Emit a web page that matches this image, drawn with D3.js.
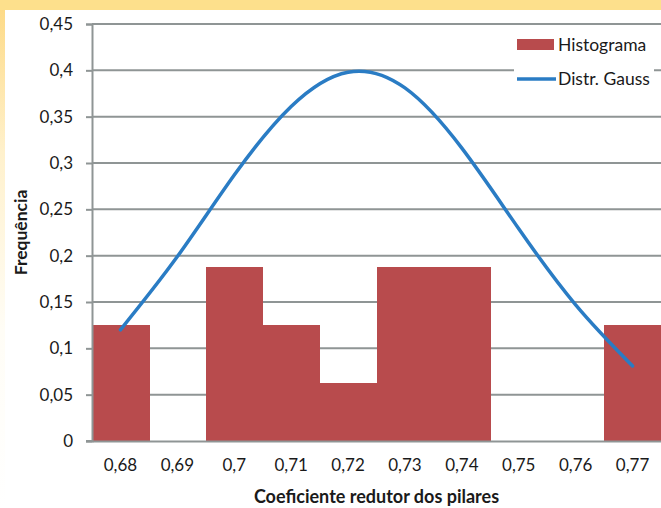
<!DOCTYPE html>
<html>
<head>
<meta charset="utf-8">
<script src="https://cdn.jsdelivr.net/npm/d3@7"></script>
<style>
  html, body { margin: 0; padding: 0; background: #fff; }
  svg { display: block; }
  text { font-family: Lato, "Open Sans", sans-serif; fill: #1a1a1a; }
</style>
</head>
<body>
<svg id="chart" width="661" height="508"></svg>
<script>
// ---- data ----
const categories = ["0,68", "0,69", "0,7", "0,71", "0,72", "0,73", "0,74", "0,75", "0,76", "0,77"];
const histogram = [0.125, 0, 0.1875, 0.125, 0.0625, 0.1875, 0.1875, 0, 0, 0.125];
const gauss = [0.120, 0.199, 0.287, 0.361, 0.398, 0.381, 0.316, 0.229, 0.147, 0.081];
const yTicks = [0, 0.05, 0.1, 0.15, 0.2, 0.25, 0.3, 0.35, 0.4, 0.45];
const seriesNames = ["Histograma", "Distr. Gauss"];
const xTitle = "Coeficiente redutor dos pilares";
const yTitle = "Frequência";

const W = 661, H = 508;
const margin = { left: 92, right: 0, top: 24, bottom: 67 };
const svg = d3.select("#chart");

// background
const defs = svg.append("defs");
const g1 = defs.append("linearGradient").attr("id", "bg").attr("x1", 0).attr("y1", 0).attr("x2", 0).attr("y2", 1);
g1.append("stop").attr("offset", "0%").attr("stop-color", "#fdd983");
g1.append("stop").attr("offset", "30%").attr("stop-color", "#fff1cc");
g1.append("stop").attr("offset", "65%").attr("stop-color", "#fffdf6");
g1.append("stop").attr("offset", "100%").attr("stop-color", "#ffffff");
svg.append("rect").attr("width", W).attr("height", H).attr("fill", "url(#bg)");
svg.append("rect").attr("x", 0).attr("y", 0).attr("width", W).attr("height", 10).attr("fill", "#fde08c");
svg.append("rect").attr("x", 5).attr("y", 10).attr("width", W - 5).attr("height", H - 10).attr("fill", "#ffffff");

const x = d3.scaleBand().domain(categories).range([margin.left, W - margin.right]).padding(0);
const y = d3.scaleLinear().domain([0, 0.45]).range([H - margin.bottom, margin.top]);
const fmt = d => String(+d.toFixed(2)).replace(".", ",");

// gridlines
svg.append("g")
  .selectAll("line").data(yTicks.filter(d => d > 0)).join("line")
  .attr("x1", margin.left).attr("x2", W)
  .attr("y1", d => y(d)).attr("y2", d => y(d))
  .attr("stroke", "#8f9595").attr("stroke-width", 2);

// bars
svg.append("g")
  .attr("shape-rendering", "crispEdges")
  .selectAll("rect").data(histogram.map((v, i) => ({ c: categories[i], v }))).join("rect")
  .attr("x", d => x(d.c)).attr("width", x.bandwidth() + 0.6)
  .attr("y", d => y(d.v)).attr("height", d => y(0) - y(d.v))
  .attr("fill", "#b84b4d");

// y axis
const yAxis = svg.append("g")
  .attr("transform", `translate(${margin.left},0)`)
  .call(d3.axisLeft(y).tickValues(yTicks).tickFormat(fmt).tickSize(6).tickPadding(13));
yAxis.select(".domain").attr("stroke", "#8f9595").attr("stroke-width", 2);
yAxis.selectAll(".tick line").attr("stroke", "#8f9595").attr("stroke-width", 2);
yAxis.selectAll("text").attr("font-size", 17).attr("fill", "#1a1a1a").style("font-family", "Lato, sans-serif");

// x axis
const xAxis = svg.append("g")
  .attr("transform", `translate(0,${y(0)})`)
  .call(d3.axisBottom(x).tickSize(0).tickPadding(18));
xAxis.select(".domain").attr("stroke", "#8f9595").attr("stroke-width", 2);
xAxis.selectAll("text").attr("font-size", 17).attr("fill", "#1a1a1a").style("font-family", "Lato, sans-serif");
svg.append("line").attr("x1", margin.left - 6).attr("x2", margin.left).attr("y1", y(0)).attr("y2", y(0))
  .attr("stroke", "#8f9595").attr("stroke-width", 2);

// gauss line
const line = d3.line()
  .x((d, i) => x(categories[i]) + x.bandwidth() / 2)
  .y(d => y(d))
  .curve(d3.curveNatural);
svg.append("path").datum(gauss)
  .attr("d", line)
  .attr("fill", "none")
  .attr("stroke", "#2a7cc4")
  .attr("stroke-width", 3.5)
  .attr("stroke-linecap", "round");

// legend
const lg = svg.append("g");
lg.append("rect").attr("x", 514).attr("y", 30).attr("width", 140).attr("height", 66).attr("fill", "#ffffff");
lg.append("rect").attr("x", 517).attr("y", 39).attr("width", 37).attr("height", 11).attr("fill", "#b84b4d");
lg.append("text").attr("x", 558).attr("y", 51).attr("font-size", 17.5).text(seriesNames[0]);
lg.append("line").attr("x1", 517).attr("x2", 556).attr("y1", 79).attr("y2", 79)
  .attr("stroke", "#2a7cc4").attr("stroke-width", 3.5);
lg.append("text").attr("x", 558).attr("y", 85).attr("font-size", 17.5).text(seriesNames[1]);

// axis titles
svg.append("text")
  .attr("x", (margin.left + W) / 2).attr("y", 503)
  .attr("text-anchor", "middle").attr("font-size", 18).attr("font-weight", "bold")
  .text(xTitle);
svg.append("text")
  .attr("transform", `translate(27,${(y(0) + y(0.45)) / 2}) rotate(-90)`)
  .attr("text-anchor", "middle").attr("font-size", 17.5).attr("font-weight", "bold")
  .text(yTitle);
</script>
</body>
</html>
